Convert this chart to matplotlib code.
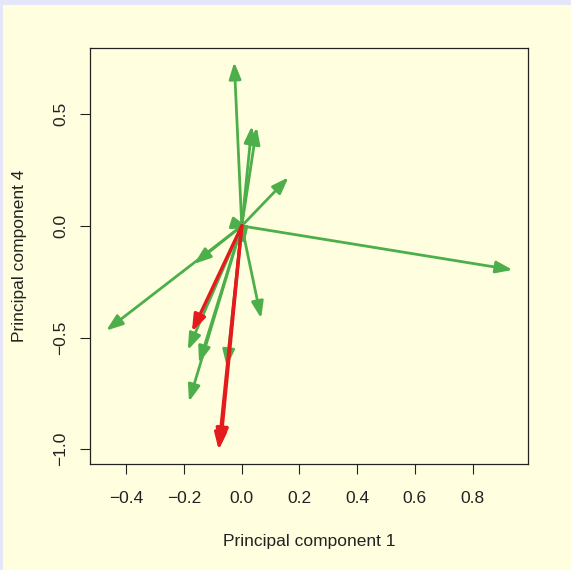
import matplotlib
matplotlib.use("Agg")
import matplotlib.pyplot as plt
from matplotlib.patches import Rectangle

plt.rcParams['font.family'] = ['Liberation Sans', 'DejaVu Sans']

# loadings (arrows start at the origin)
green_pc1 = [-0.026, 0.035, 0.052, 0.162, 0.939, 0.025, -0.470, -0.165,
             -0.187, -0.148, -0.183, -0.052, 0.067, 0.008]
green_pc4 = [0.734, 0.448, 0.442, 0.218, -0.197, -0.010, -0.469, -0.170,
             -0.556, -0.615, -0.787, -0.630, -0.414, -0.085]
red_pc1 = [-0.173, -0.080, -0.074]
red_pc4 = [-0.474, -1.004, -0.985]

x_ticks = [-0.4, -0.2, 0.0, 0.2, 0.4, 0.6, 0.8]
y_ticks = [-1.0, -0.5, 0.0, 0.5]

BG = "#FFFFE0"
GREEN = "#4DAF4A"
RED = "#E41A1C"

fig = plt.figure(figsize=(5.71, 5.70), dpi=100, facecolor=BG)
# lavender strips along the top and left edge
fig.patches.append(Rectangle((0, 1 - 5 / 570), 1, 5 / 570, transform=fig.transFigure,
                             facecolor="#E6E6FA", edgecolor="none", zorder=5))
fig.patches.append(Rectangle((0, 0), 3 / 571, 1, transform=fig.transFigure,
                             facecolor="#E6E6FA", edgecolor="none", zorder=5))

ax = fig.add_axes([0.1576, 0.1854, 0.7666, 0.7299])
ax.set_facecolor(BG)


def draw_arrows(xs, ys, color, lw):
    for x, y in zip(xs, ys):
        ax.annotate("", xy=(x, y), xytext=(0, 0),
                    arrowprops=dict(arrowstyle="-|>,head_length=0.5,head_width=0.18",
                                    color=color, lw=lw, mutation_scale=20,
                                    shrinkA=0, shrinkB=0))


draw_arrows(green_pc1, green_pc4, GREEN, 2.0)
draw_arrows(red_pc1, red_pc4, RED, 2.4)

ax.set_xlim(-0.526, 0.991)
ax.set_ylim(-1.068, 0.796)
ax.set_xticks(x_ticks)
ax.set_xticklabels([f"{t:.1f}".replace("-", "\u2212") for t in x_ticks])
ax.set_yticks(y_ticks)
ax.set_yticklabels([f"{t:.1f}".replace("-", "\u2212") for t in y_ticks],
                   rotation=90, va="center")
ax.tick_params(axis="both", length=7.5, width=0.8, labelsize=12.5, colors="#222222")
ax.tick_params(axis="x", pad=12)
ax.tick_params(axis="y", pad=8)
for s in ax.spines.values():
    s.set_linewidth(0.9)
    s.set_color("#222222")

ax.set_xlabel("Principal component 1", fontsize=12.5, labelpad=20, color="#222222")
ax.set_ylabel("Principal component 4", fontsize=12.5, labelpad=19, color="#222222")

fig.savefig("out.png", dpi=100, facecolor=BG)
